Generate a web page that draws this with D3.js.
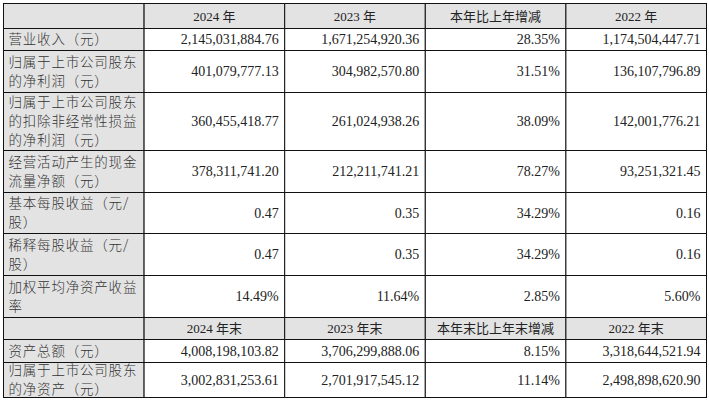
<!DOCTYPE html>
<html lang="zh">
<head>
<meta charset="UTF-8">
<script src="https://d3js.org/d3.v7.min.js"></script>
<style>
    body { margin: 0; background: #fff; }
    text { font-family: "Liberation Serif", "Noto Sans CJK SC", serif; font-size: 13px; fill: #222; }
</style>
</head>
<body>
<script>
    // table data
    var header1 = ["", "2024 年", "2023 年", "本年比上年增减", "2022 年"];
    var header2 = ["", "2024 年末", "2023 年末", "本年末比上年末增减", "2022 年末"];
    var labels = [
        ["营业收入（元）"],
        ["归属于上市公司股东", "的净利润（元）"],
        ["归属于上市公司股东", "的扣除非经常性损益", "的净利润（元）"],
        ["经营活动产生的现金", "流量净额（元）"],
        ["基本每股收益（元/", "股）"],
        ["稀释每股收益（元/", "股）"],
        ["加权平均净资产收益", "率"]
    ];
    var v2024 = ["2,145,031,884.76", "401,079,777.13", "360,455,418.77", "378,311,741.20", "0.47", "0.47", "14.49%"];
    var v2023 = ["1,671,254,920.36", "304,982,570.80", "261,024,938.26", "212,211,741.21", "0.35", "0.35", "11.64%"];
    var change = ["28.35%", "31.51%", "38.09%", "78.27%", "34.29%", "34.29%", "2.85%"];
    var v2022 = ["1,174,504,447.71", "136,107,796.89", "142,001,776.21", "93,251,321.45", "0.16", "0.16", "5.60%"];
    var labels2 = [["资产总额（元）"], ["归属于上市公司股东", "的净资产（元）"]];
    var e2024 = ["4,008,198,103.82", "3,002,831,253.61"];
    var e2023 = ["3,706,299,888.06", "2,701,917,545.12"];
    var eChange = ["8.15%", "11.14%"];
    var e2022 = ["3,318,644,521.94", "2,498,898,620.90"];
    var rowEdges = [3, 28, 50, 92, 150, 192, 233, 275, 317, 339, 362, 397];

    var rows = [{ header: true, cells: header1 }];
    labels.forEach((l, i) => rows.push({ label: l, cells: ["", v2024[i], v2023[i], change[i], v2022[i]] }));
    rows.push({ header: true, cells: header2 });
    labels2.forEach((l, i) => rows.push({ label: l, cells: ["", e2024[i], e2023[i], eChange[i], e2022[i]] }));

    var svg = d3.select("body").append("svg").attr("width", 709).attr("height", 409);
    var x = d3.scaleLinear().domain([0, 5]).range([3.5, 706.5]);
    var y = d3.scaleOrdinal().domain(d3.range(rowEdges.length)).range(rowEdges);

    rows.forEach(function(r, i) {
        var y0 = y(i) + 0.5, y1 = y(i + 1) + 0.5, g = svg.append("g");
        for (var c = 0; c < 5; c++) {
            g.append("rect")
                .attr("x", x(c)).attr("y", y0)
                .attr("width", x(c + 1) - x(c)).attr("height", y1 - y0)
                .attr("fill", r.header || c === 0 ? "#e3e3e3" : "#fff")
                .attr("stroke", "#111").attr("stroke-width", 1);
            if (c === 0 && r.label) {
                var n = r.label.length, top = (y0 + y1) / 2 - (n - 1) * 9.5;
                r.label.forEach((t, k) => g.append("text")
                    .attr("x", x(0) + 5).attr("y", top + k * 19).attr("dy", "0.35em")
                    .style("font-family", "'Noto Sans CJK SC'").style("font-size", "13.5px")
                    .style("font-weight", "300")
                    .style("letter-spacing", "0.8px").style("fill", "#333").text(t));
            } else if (c > 0) {
                g.append("text")
                    .attr("x", r.header ? (x(c) + x(c + 1)) / 2 : x(c + 1) - 6)
                    .attr("y", (y0 + y1) / 2).attr("dy", "0.35em")
                    .attr("text-anchor", r.header ? "middle" : "end")
                    .style("font-size", r.header ? "13px" : "14px")
                    .text(r.cells[c]);
            }
        }
    });
</script>
</body>
</html>
